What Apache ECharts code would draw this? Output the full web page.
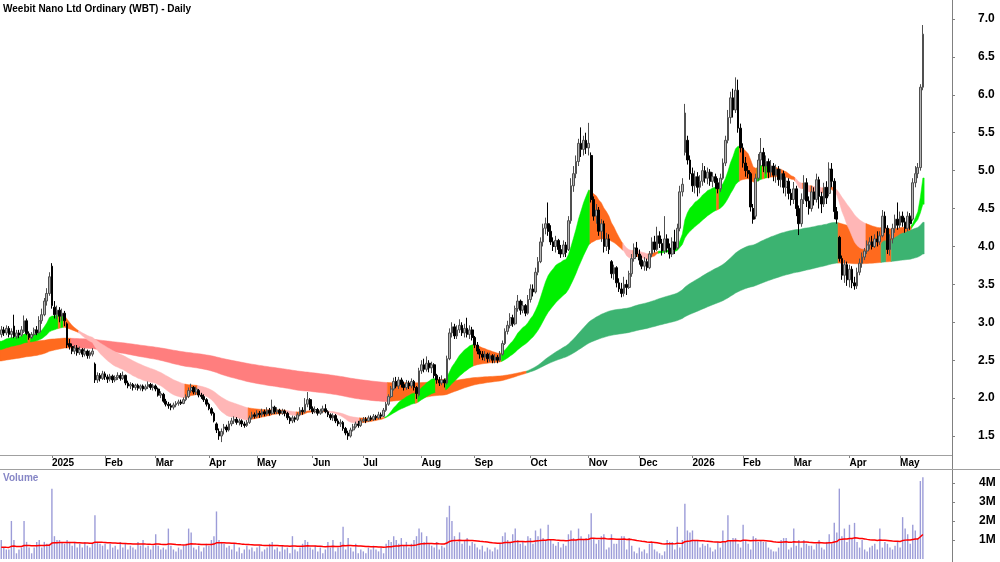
<!DOCTYPE html>
<html>
<head>
<meta charset="utf-8">
<title>WBT - Daily</title>
<script src="https://cdn.jsdelivr.net/npm/echarts@6/dist/echarts.min.js"></script>
<style>
html, body { margin: 0; padding: 0; background: #fff; }
#chart { width: 1000px; height: 562px; }
</style>
</head>
<body>
<div id="chart"></div>
<script>
// ASX holidays inside the range (skipped when building trading days)
var holidays = ['2024-12-25', '2024-12-26', '2025-01-01', '2025-01-27', '2025-04-18', '2025-04-21',
  '2025-04-25', '2025-06-09', '2025-12-25', '2025-12-26', '2026-01-01', '2026-01-26', '2026-04-03', '2026-04-06'];

// daily prices in cents, one line per month (Dec 2024 .. May 2026)
var opens = [
  284,290,286,292,284,295,281,286,283,288,302,285,280,284,290,287,302,310,328,338,
  374,320,310,316,308,312,298,272,268,262,266,260,264,258,262,256,258,245,224,230,226,
  232,228,225,229,224,227,230,226,230,220,216,218,214,217,213,216,212,215,218,214,
  216,212,204,205,196,192,190,188,191,193,195,193,198,202,210,214,208,210,204,202,198,
  192,186,180,166,156,150,160,162,158,166,170,172,168,170,166,164,168,174,178,
  176,180,178,182,179,184,180,188,182,184,180,183,180,174,170,174,172,178,184,182,192,198,
  186,182,185,180,183,186,182,178,174,177,170,166,168,160,154,150,158,162,166,164,
  170,172,170,174,172,176,174,178,176,184,192,202,212,222,216,224,218,214,220,216,222,214,204,
  236,244,238,246,240,244,230,224,220,224,220,252,286,294,282,290,296,286,292,284,290,
  280,270,262,258,254,258,252,256,250,254,250,258,272,288,296,306,298,318,328,316,322,312,
  330,344,340,366,380,406,424,430,420,406,400,408,396,390,402,396,434,480,496,512,536,528,540,
  530,520,462,440,448,420,430,400,410,380,364,372,352,344,338,350,346,364,384,398,
  390,382,374,380,372,390,406,396,414,404,394,410,398,390,406,398,424,472,524,540,514,
  496,480,492,478,486,500,490,498,486,492,484,476,490,510,540,570,596,580,606,556,
  530,510,500,496,450,440,490,514,524,506,512,498,506,494,502,488,496,478,486,470,
  462,476,450,430,462,484,460,450,472,462,488,466,456,478,470,502,486,446,412,384,362,376,
  356,370,352,348,366,378,386,394,402,406,400,410,406,414,440,424,396,410,424,436,
  428,440,432,424,440,436,484,496,504,610
];
var highs = [
  295,294,296,295,292,310,290,290,295,309,305,288,287,293,295,308,318,332,345,366,
  378,328,322,320,318,315,300,278,272,270,270,268,266,266,264,263,266,247,234,233,236,
  235,231,232,231,230,234,233,235,231,223,221,220,219,219,218,218,218,222,220,219,
  218,214,209,207,199,195,193,194,196,198,198,201,205,214,219,216,215,212,207,205,200,
  194,188,182,168,160,160,166,165,170,174,176,175,173,172,169,171,177,182,181,
  184,183,186,185,188,187,198,190,188,186,186,185,182,176,177,176,181,188,188,200,208,200,
  189,189,187,186,190,192,184,180,180,179,173,172,170,162,157,161,166,169,170,173,
  175,175,177,177,179,178,182,181,187,195,205,216,227,228,228,227,222,224,223,226,224,216,240,
  250,252,255,250,248,246,232,228,230,226,256,292,300,298,296,304,300,298,306,296,294,
  282,274,265,262,262,260,260,258,258,257,262,276,292,302,312,310,322,336,330,328,324,336,
  350,350,372,386,412,430,438,458,428,412,414,410,402,408,406,440,490,506,520,542,557,546,550,
  563,524,466,456,452,436,434,418,416,382,376,374,358,352,360,356,368,390,404,406,
  396,388,386,384,394,412,414,426,420,410,440,416,404,412,422,430,480,490,588,546,520,
  504,500,498,494,510,506,504,502,498,496,490,496,516,546,580,604,608,623,620,562,
  536,518,506,498,456,496,522,543,530,520,516,514,510,508,506,502,500,492,490,476,
  485,480,454,470,494,490,466,480,478,496,492,472,484,486,511,510,490,452,414,388,382,380,
  376,374,360,372,384,392,398,408,412,414,416,420,420,448,446,428,416,430,442,458,
  446,446,438,446,444,490,506,510,614,692
];
var lows = [
  280,282,283,280,279,279,278,279,281,286,283,277,278,282,283,285,298,308,322,335,
  318,305,304,300,302,295,266,264,258,258,256,257,254,255,252,252,255,220,220,222,224,
  224,220,222,220,221,224,223,224,217,213,212,210,211,210,210,209,210,212,211,210,
  209,202,200,194,189,186,184,185,188,190,191,192,196,200,207,205,204,201,199,195,189,
  184,177,168,154,145,142,152,155,156,163,166,165,164,162,161,162,166,172,173,
  174,174,175,176,177,177,178,179,179,177,178,176,171,166,167,168,170,176,178,180,188,184,
  179,180,177,178,180,180,175,171,170,167,163,162,157,151,145,148,156,160,161,162,
  168,167,169,170,170,171,172,173,175,182,190,200,210,213,212,214,210,211,212,213,210,199,202,
  232,234,235,234,233,226,219,216,217,214,218,250,280,278,278,286,282,280,280,278,276,
  266,258,252,250,249,247,248,246,246,246,248,256,270,284,292,294,296,314,310,312,308,310,
  326,334,338,362,378,400,416,414,402,394,392,390,385,386,386,394,430,472,490,506,518,520,522,
  520,458,434,430,414,406,392,394,390,358,356,346,340,333,334,336,344,360,380,386,
  376,370,368,368,370,386,392,394,398,388,390,392,384,386,390,396,420,466,520,508,488,
  472,470,466,470,480,484,482,480,478,476,470,472,488,506,536,562,570,576,550,524,
  504,492,490,446,430,436,486,506,498,496,490,492,486,484,480,478,470,466,462,454,
  456,440,415,426,456,452,442,446,454,458,450,444,452,456,466,478,436,430,380,356,352,348,
  346,345,343,344,362,372,382,390,396,396,398,400,402,412,418,390,388,404,418,422,
  424,426,418,420,422,434,478,490,500,606
];
var closes = [
  290,286,292,284,288,281,286,283,290,302,285,280,284,290,286,302,310,328,338,360,
  322,310,316,308,312,302,270,268,262,266,260,264,258,262,256,260,262,224,230,226,232,
  228,225,229,224,227,230,226,230,220,216,218,214,217,213,216,212,215,218,214,216,
  212,204,206,196,192,190,188,191,193,195,193,198,202,210,214,208,212,204,202,198,192,
  186,180,170,158,150,156,162,158,166,170,172,168,170,166,164,168,174,178,176,
  180,178,182,179,184,180,188,182,184,180,183,180,174,170,174,172,178,184,182,192,198,186,
  182,185,180,183,186,182,178,174,177,170,166,168,160,154,150,158,162,166,164,170,
  172,170,174,172,176,174,178,176,184,192,202,212,222,216,224,218,214,220,216,222,214,206,236,
  244,238,246,240,244,230,224,220,224,220,252,286,294,282,290,296,286,292,284,290,280,
  270,262,258,254,258,252,256,250,254,250,258,272,288,296,306,298,318,328,316,322,312,330,
  344,340,366,380,406,424,430,420,406,400,408,396,390,402,392,434,480,496,512,536,528,540,530,
  536,462,440,448,420,430,400,410,396,364,372,352,344,338,350,346,364,384,398,390,
  382,374,380,372,390,406,396,414,404,394,410,398,390,406,396,424,472,482,576,514,496,
  480,492,478,486,500,490,498,486,492,484,476,490,510,540,570,596,580,606,556,530,
  510,500,496,452,436,490,514,524,506,512,498,506,494,502,488,496,478,486,470,462,
  476,450,430,462,484,460,450,472,462,488,466,456,478,464,502,486,446,436,384,362,376,356,
  370,352,348,366,378,386,394,402,406,400,410,406,414,440,424,396,410,424,436,428,
  440,432,424,440,430,484,496,504,610,680
];
// daily volume in units of 100,000 shares
var volumes = [
  10,6,5,5,20,10,3,5,6,20,9,6,3,6,9,10,6,9,8,8,
  37,12,10,10,9,8,10,9,7,9,6,8,6,9,7,6,8,23,9,8,7,
  8,5,8,6,7,5,9,6,8,5,7,6,5,9,7,10,6,7,5,7,
  13,7,5,6,5,16,7,5,4,6,5,7,8,16,14,6,5,7,4,6,8,
  7,10,12,25,10,9,8,6,7,5,8,4,6,3,5,7,5,6,4,
  6,7,4,5,6,8,9,5,6,4,7,5,6,3,12,5,4,6,8,10,9,6,
  5,7,4,6,3,5,9,6,10,4,6,9,17,5,11,6,4,8,3,5,
  4,3,6,5,7,5,4,6,3,8,10,9,12,10,8,11,7,9,6,8,10,12,16,
  14,9,12,8,7,6,9,5,7,6,22,28,20,12,9,14,8,10,11,7,9,
  8,6,5,7,4,6,5,4,6,5,8,12,14,10,9,13,16,10,8,9,7,12,
  11,8,15,12,16,11,10,18,10,8,7,9,6,8,7,13,15,11,10,16,12,10,11,
  13,24,11,8,10,12,13,5,6,13,8,8,10,12,12,5,11,7,4,3,
  6,4,5,3,8,9,5,4,3,2,4,10,9,9,5,17,6,10,29,15,14,
  15,10,10,6,8,7,8,6,4,5,9,6,15,9,23,10,11,11,8,6,
  18,10,8,5,12,11,9,10,9,9,6,5,4,4,6,10,11,11,5,6,
  16,7,10,6,10,8,7,7,5,8,10,6,5,9,13,8,19,14,37,12,16,9,
  18,11,19,9,6,10,5,4,6,7,8,5,16,6,9,8,6,5,7,9,
  6,22,16,13,8,18,15,11,41,43
];

// ribbons: exponential averages of close, fast first
var shortPeriods = [16, 20, 24, 28, 33, 40];
var longPeriods = [130, 150, 170, 195, 220, 245];
// ribbon levels at the first bar
var shortStart = [2.75, 2.73, 2.71, 2.69, 2.66, 2.64];
var longStart = [2.49, 2.54, 2.59, 2.64, 2.69, 2.74];
var volAvgStart = 0.62; // million
var volAvgPeriod = 50;

var priceTicks = [1.5, 2.0, 2.5, 3.0, 3.5, 4.0, 4.5, 5.0, 5.5, 6.0, 6.5, 7.0];
var volTicks = [1e6, 2e6, 3e6, 4e6];
var monthNames = ['Jan', 'Feb', 'Mar', 'Apr', 'May', 'Jun', 'Jul', 'Aug', 'Sep', 'Oct', 'Nov', 'Dec'];

// colours: [up, mixed, down]
var shortColors = ['#00f000', '#ff6a1e', '#ffb6b6'];
var longColors = ['#3cb371', '#ff6a1e', '#ff7e7e'];

function tradingDays(count) {
  var out = [], d = new Date(Date.UTC(2024, 11, 2));
  while (out.length < count) {
    var wd = d.getUTCDay(), s = d.toISOString().slice(0, 10);
    if (wd !== 0 && wd !== 6 && holidays.indexOf(s) < 0) out.push(s);
    d.setUTCDate(d.getUTCDate() + 1);
  }
  return out;
}
var dates = tradingDays(closes.length + 11);

function isMonthStart(i) {
  return i > 0 && dates[i].slice(5, 7) !== dates[i - 1].slice(5, 7);
}

function ema(period, start) {
  var a = 2 / (period + 1), v = start, out = [];
  for (var i = 0; i < closes.length; i++) {
    if (i > 0) v += a * (closes[i] / 100 - v);
    out.push(v);
  }
  return out;
}

// per bar: top, bottom and state (0 up, 1 mixed, 2 down)
function ribbonBars(periods, starts) {
  var lines = periods.map(function (p, k) { return ema(p, starts[k]); });
  var top = [], bot = [], state = [];
  for (var i = 0; i < closes.length; i++) {
    var vals = lines.map(function (l) { return l[i]; });
    var fast = vals[0], slow = vals[vals.length - 1], c = closes[i] / 100;
    top.push(Math.max.apply(null, vals));
    bot.push(Math.min.apply(null, vals));
    state.push((fast > slow && c > fast) ? 0 : ((fast < slow && c < fast) ? 2 : 1));
  }
  return { top: top, bot: bot, state: state };
}

// one polygon for every run of bars in the same state
function ribbonSeries(rb, colors, z) {
  var runs = [], s = 0, n = rb.state.length;
  for (var i = 1; i <= n; i++) {
    if (i === n || rb.state[i] !== rb.state[s]) { runs.push([s, i - 1, rb.state[s], rb.top[s]]); s = i; }
  }
  return {
    type: 'custom', xAxisIndex: 0, yAxisIndex: 0, z: z, silent: true,
    data: runs,
    encode: { x: [0, 1], y: 3 },
    renderItem: function (params, api) {
      var run = runs[params.dataIndex], a = run[0], b = run[1];
      var half = api.size([1, 0])[0] / 2;
      var edge = function (arr, k, side) {
        var j = k + side;
        return j < 0 || j >= n ? arr[k] : (arr[k] + arr[j]) / 2;
      };
      var upper = [], lower = [];
      var xa = api.coord([a, rb.top[a]])[0] - half;
      upper.push([xa, api.coord([a, edge(rb.top, a, -1)])[1]]);
      lower.push([xa, api.coord([a, edge(rb.bot, a, -1)])[1]]);
      for (var k = a; k <= b; k++) {
        upper.push(api.coord([k, rb.top[k]]));
        lower.push(api.coord([k, rb.bot[k]]));
      }
      var xb = api.coord([b, rb.top[b]])[0] + half;
      upper.push([xb, api.coord([b, edge(rb.top, b, 1)])[1]]);
      lower.push([xb, api.coord([b, edge(rb.bot, b, 1)])[1]]);
      var col = colors[run[2]];
      return {
        type: 'polygon',
        shape: { points: upper.concat(lower.reverse()) },
        style: { fill: col, stroke: col, lineWidth: 0.5 }
      };
    }
  };
}

var candles = closes.map(function (c, i) {
  return [opens[i] / 100, c / 100, lows[i] / 100, highs[i] / 100];
});
var volData = volumes.map(function (v) { return v * 1e5; });
var volAvg = [];
(function () {
  var v = volAvgStart, a = 2 / (volAvgPeriod + 1);
  for (var i = 0; i < volumes.length; i++) {
    if (i > 0) v += a * (volumes[i] / 10 - v);
    volAvg.push(v * 1e6);
  }
})();

var labelFont = { fontFamily: 'Liberation Sans', fontWeight: 'bold', color: '#000' };

var chart = echarts.init(document.getElementById('chart'), null, { renderer: 'canvas' });
chart.setOption({
  animation: false,
  textStyle: { fontFamily: 'Liberation Sans' },
  title: {
    text: 'Weebit Nano Ltd Ordinary (WBT) - Daily',
    left: 3, top: 4, padding: 0,
    textStyle: { fontSize: 10, fontWeight: 'bold', color: '#000', fontFamily: 'Liberation Sans' }
  },
  grid: [
    { left: 0, right: 48, top: 0, height: 455 },
    { left: 0, right: 48, top: 470, height: 89 }
  ],
  xAxis: [
    {
      type: 'category', gridIndex: 0, data: dates, boundaryGap: true,
      axisLine: { show: false },
      axisTick: { show: true, alignWithLabel: true, length: 3, interval: isMonthStart, lineStyle: { color: '#808080' } },
      axisLabel: Object.assign({
        interval: isMonthStart, align: 'left', margin: 3, fontSize: 10,
        formatter: function (v) {
          var m = +v.slice(5, 7);
          return m === 1 ? v.slice(0, 4) : monthNames[m - 1];
        }
      }, labelFont),
      splitLine: { show: false }
    },
    {
      type: 'category', gridIndex: 1, data: dates, boundaryGap: true,
      axisLine: { show: false }, axisTick: { show: false }, axisLabel: { show: false }
    }
  ],
  yAxis: [
    {
      type: 'value', gridIndex: 0, position: 'right', min: 1.25, max: 7.25,
      splitLine: { show: false }, axisLine: { show: false },
      axisTick: { show: true, length: 3, customValues: priceTicks, lineStyle: { color: '#808080' } },
      axisLabel: Object.assign({
        customValues: priceTicks, margin: 26, fontSize: 12,
        formatter: function (v) { return v.toFixed(1); }
      }, labelFont)
    },
    {
      type: 'value', gridIndex: 1, position: 'right', min: 0, max: 4.68e6,
      splitLine: { show: false }, axisLine: { show: false },
      axisTick: { show: true, length: 3, customValues: volTicks, lineStyle: { color: '#808080' } },
      axisLabel: Object.assign({
        customValues: volTicks, margin: 27, fontSize: 12,
        formatter: function (v) { return (v / 1e6) + 'M'; }
      }, labelFont)
    }
  ],
  graphic: [
    { type: 'line', shape: { x1: 952.5, y1: 0, x2: 952.5, y2: 562 }, style: { stroke: '#808080', lineWidth: 1 }, z: 100 },
    { type: 'line', shape: { x1: 0, y1: 455.5, x2: 952, y2: 455.5 }, style: { stroke: '#a0a0a0', lineWidth: 1 }, z: 100 },
    { type: 'line', shape: { x1: 0, y1: 469.5, x2: 1000, y2: 469.5 }, style: { stroke: '#a0a0a0', lineWidth: 1 }, z: 100 },
    { type: 'text', left: 3, top: 473, style: { text: 'Volume', fill: '#8686c6', font: 'bold 10px "Liberation Sans"' }, z: 100 }
  ],
  series: [
    ribbonSeries(ribbonBars(longPeriods, longStart), longColors, 1),
    ribbonSeries(ribbonBars(shortPeriods, shortStart), shortColors, 2),
    {
      type: 'candlestick', xAxisIndex: 0, yAxisIndex: 0, z: 5,
      data: candles, barWidth: 2.2,
      itemStyle: { color: '#b4b4b4', color0: '#000000', borderColor: '#505050', borderColor0: '#000000', borderWidth: 1 }
    },
    {
      type: 'bar', xAxisIndex: 1, yAxisIndex: 1, data: volData, barWidth: 1.4,
      itemStyle: { color: '#9c9cd8' }
    },
    {
      type: 'line', xAxisIndex: 1, yAxisIndex: 1, data: volAvg, showSymbol: false, z: 5,
      lineStyle: { color: '#ff0000', width: 1.5 }
    }
  ]
});
</script>
</body>
</html>
